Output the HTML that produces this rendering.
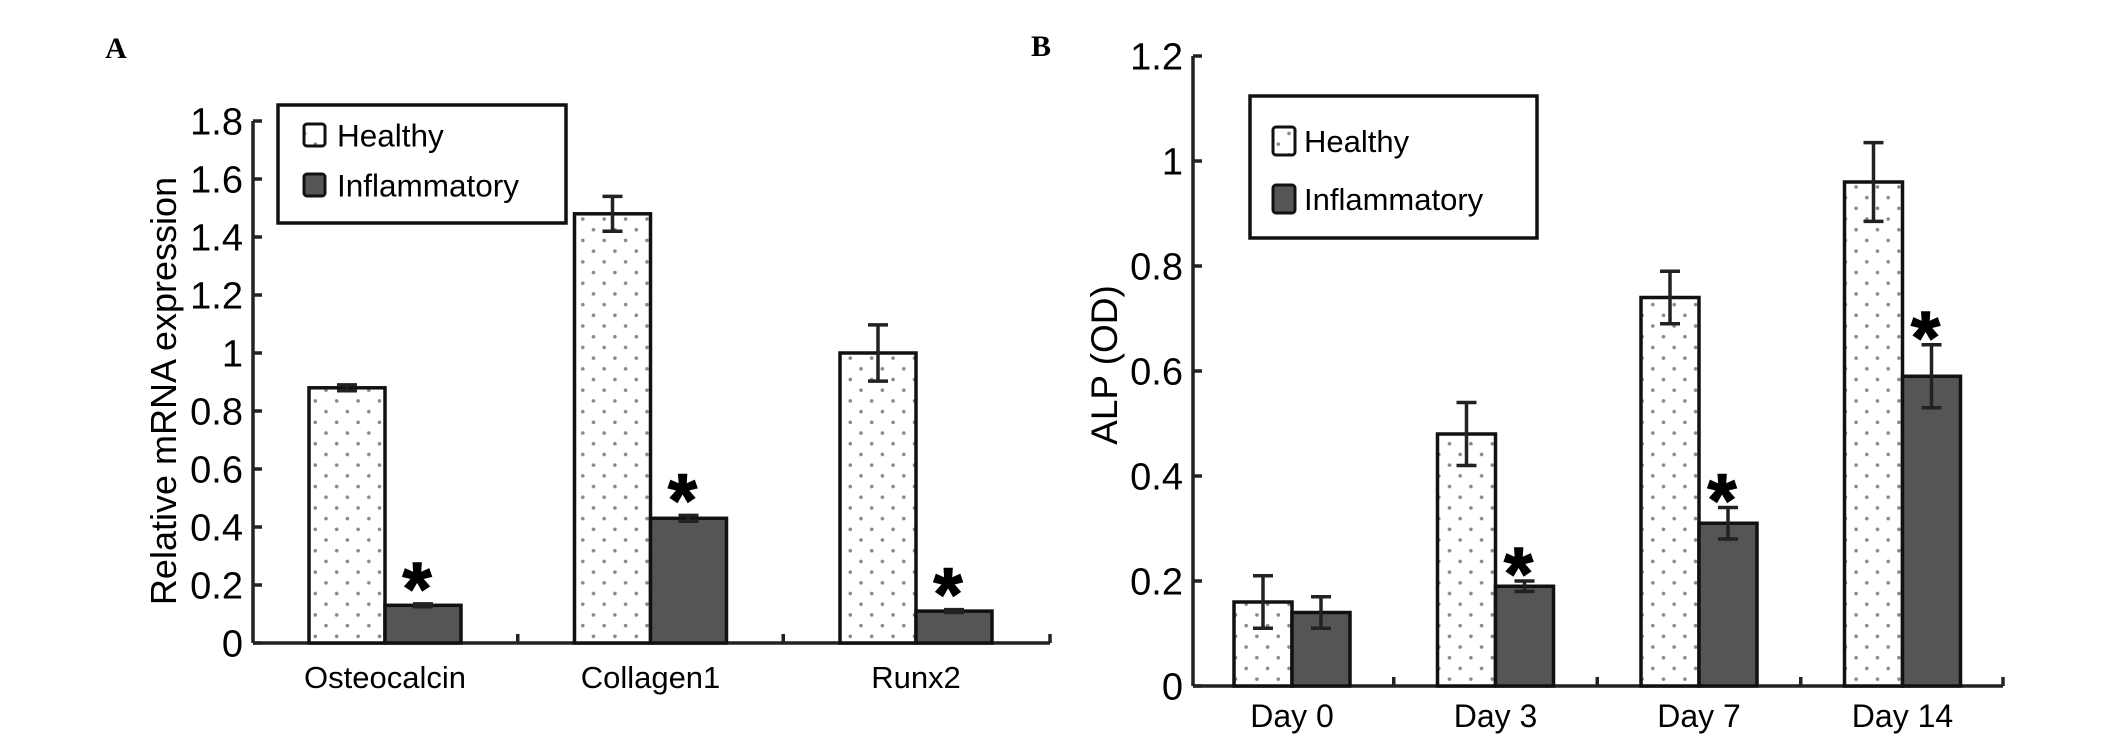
<!DOCTYPE html>
<html><head><meta charset="utf-8"><style>
html,body{margin:0;padding:0;background:#fff;}
svg{display:block;font-family:"Liberation Sans",Arial,sans-serif;}
</style></head><body>
<svg id="fig" width="2126" height="744" viewBox="0 0 2126 744" xmlns="http://www.w3.org/2000/svg">
<defs>
<pattern id="dots" width="21.4" height="21.4" patternUnits="userSpaceOnUse">
<rect width="21.4" height="21.4" fill="#fff"/>
<circle cx="5" cy="5" r="1.8" fill="#888"/>
<circle cx="15.7" cy="15.7" r="1.8" fill="#888"/>
</pattern>
</defs>
<text x="116" y="58" font-family="Liberation Serif,serif" font-weight="bold" font-size="30" text-anchor="middle">A</text>
<text x="1041" y="56" font-family="Liberation Serif,serif" font-weight="bold" font-size="30" text-anchor="middle">B</text>
<g id="pa"></g>
<g id="pb"></g>
</svg>
<script>
const aCats = ["Osteocalcin","Collagen1","Runx2"];
const aHealthy = [0.88,1.48,1.0];
const aHealthyErr = [0.01,0.06,0.097];
const aInfl = [0.13,0.43,0.11];
const aInflErr = [0.005,0.01,0.005];
const aSig = [true,true,true];
const aTicks = ["0","0.2","0.4","0.6","0.8","1","1.2","1.4","1.6","1.8"];

const bCats = ["Day 0","Day 3","Day 7","Day 14"];
const bHealthy = [0.16,0.48,0.74,0.96];
const bHealthyErr = [0.05,0.06,0.05,0.075];
const bInfl = [0.14,0.19,0.31,0.59];
const bInflErr = [0.03,0.01,0.03,0.06];
const bSig = [false,true,true,true];
const bTicks = ["0","0.2","0.4","0.6","0.8","1","1.2"];

const NS="http://www.w3.org/2000/svg";
function mk(parent,tag,attrs,text){const e=document.createElementNS(NS,tag);for(const k in attrs)e.setAttribute(k,attrs[k]);if(text!==undefined)e.textContent=text;parent.appendChild(e);return e;}

function drawPanel(g,cfg){
  const y=v=>cfg.y0-(v/cfg.yMax)*(cfg.y0-cfg.yTop);
  const xg=i=>cfg.gx0+i*cfg.gstep;
  let e=mk(g,'line',{x1:cfg.ax,y1:y(cfg.yMax),x2:cfg.ax,y2:cfg.y0,stroke:'#222','stroke-width':3.5});
  
  
  e=mk(g,'line',{x1:cfg.ax,y1:cfg.y0,x2:cfg.axEnd,y2:cfg.y0,stroke:'#222','stroke-width':3.5});
  
  
  cfg.ticks.forEach((t,i)=>{
    const v=parseFloat(t), yy=y(v);
    let l=mk(g,'line',{x1:cfg.ax,y1:yy,x2:cfg.ax+9,y2:yy,stroke:'#222','stroke-width':3.5});
    
    
    let tx=mk(g,'text',{x:cfg.ax-10,y:yy+cfg.tfs*0.36,'font-size':cfg.tfs,'text-anchor':'end'},t);
    
    
  });
  for(let i=1;i<=cfg.cats.length;i++){
    const xx = i<cfg.cats.length ? (xg(i-1)+cfg.bw*2+xg(i))/2 : cfg.axEnd;
    let l=mk(g,'line',{x1:xx,y1:cfg.y0,x2:xx,y2:cfg.y0-9,stroke:'#222','stroke-width':3.5});
    
    
  }
  cfg.cats.forEach((c,i)=>{
    const x0=xg(i);
    const series=[[cfg.h,cfg.he,'url(#dots)','healthy'],[cfg.inf,cfg.ie,'#555','inflammatory']];
    series.forEach((s,k)=>{
      const bx=x0+k*cfg.bw, v=s[0][i];
      let r=mk(g,'rect',{x:bx,y:y(v),width:cfg.bw,height:cfg.y0-y(v),fill:s[2],stroke:'#111','stroke-width':3.5});
      
      
      const cx=bx+cfg.bw/2, er=s[1][i];
      const eg=mk(g,'g',{stroke:'#222','stroke-width':3.5});
      
      
      mk(eg,'line',{x1:cx,y1:y(v+er),x2:cx,y2:y(v-er)});
      mk(eg,'line',{x1:cx-10,y1:y(v+er),x2:cx+10,y2:y(v+er)});
      mk(eg,'line',{x1:cx-10,y1:y(v-er),x2:cx+10,y2:y(v-er)});
    });
    if(cfg.sig[i]){
      const cx=x0+cfg.bw*1.5-6, top=y(cfg.inf[i]+cfg.ie[i])-cfg.sOff;
      let s=mk(g,'text',{x:cx,y:top+40,'font-size':74,'font-weight':'bold','text-anchor':'middle',stroke:'#000','stroke-width':1.5},'*');
      
      
    }
    let lb=mk(g,'text',{x:x0+cfg.bw,y:cfg.labY,'font-size':cfg.lfs,'text-anchor':'middle'},c);
    
    
  });
  const L=cfg.leg;
  let lg=mk(g,'g',{});
  
  
  mk(lg,'rect',{x:L.x,y:L.y,width:L.w,height:L.h,fill:'#fff',stroke:'#111','stroke-width':3.5});
  [['Healthy','url(#dots)',L.r1],['Inflammatory','#555',L.r2]].forEach(([n,f,ry])=>{
    let ent=mk(lg,'g',{});
    
    
    mk(ent,'rect',{x:L.sx,y:ry-L.sh/2,width:L.sw,height:L.sh,rx:3,fill:f,stroke:'#111','stroke-width':3});
    mk(ent,'text',{x:L.tx,y:ry+L.fs*0.36,'font-size':L.fs},n);
  });
  let yt=mk(g,'text',{x:0,y:0,'font-size':cfg.yfs,'text-anchor':'middle',transform:`translate(${cfg.ytx},${cfg.yty}) rotate(-90)`},cfg.ytitle);
  
  
}

drawPanel(document.getElementById('pa'),{
  cats:aCats,h:aHealthy,he:aHealthyErr,inf:aInfl,ie:aInflErr,sig:aSig,ticks:aTicks,
  yMax:1.8,y0:643,yTop:121,ax:253,axEnd:1050,gx0:309,gstep:265.5,bw:76,
  tfs:38,lfs:31,labY:688,sOff:30,
  leg:{x:278,y:105,w:288,h:118,sx:304,sw:21,sh:22,tx:337,r1:135,r2:185,fs:31.5},
  ytitle:'Relative mRNA expression',ytx:176,yty:391,yfs:36
});
drawPanel(document.getElementById('pb'),{
  cats:bCats,h:bHealthy,he:bHealthyErr,inf:bInfl,ie:bInflErr,sig:bSig,ticks:bTicks,
  yMax:1.2,y0:686,yTop:56,ax:1193,axEnd:2003,gx0:1234,gstep:203.5,bw:58,
  tfs:38,lfs:32,labY:727,sOff:22,
  leg:{x:1250,y:96,w:287,h:142,sx:1273,sw:22,sh:28,tx:1304,r1:141,r2:199,fs:31},
  ytitle:'ALP (OD)',ytx:1117,yty:365,yfs:37
});
</script>
</body></html>
